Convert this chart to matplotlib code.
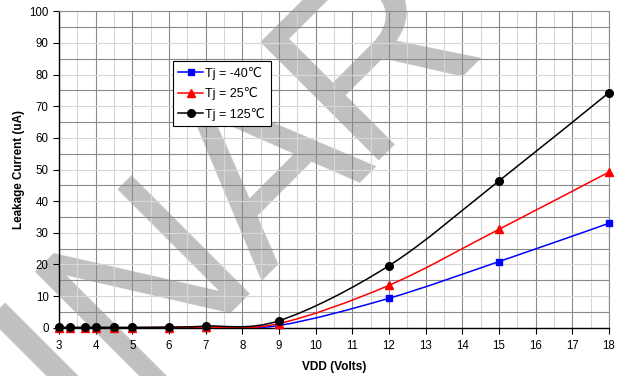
import numpy as np
import matplotlib
matplotlib.use("Agg")
import matplotlib.pyplot as plt
from matplotlib.path import Path
from matplotlib.patches import PathPatch
from matplotlib.lines import Line2D

plt.rcParams['font.family'] = ['Liberation Sans', 'DejaVu Sans']

vdd = [3, 3.3, 3.7, 4, 4.5, 5, 6, 7, 9, 12, 15, 18]
i_m40 = [0, 0, 0, 0, 0, 0, 0, 0.05, 0.7, 9.3, 20.9, 33.0]
i_25 = [0, 0, 0, 0, 0, 0, 0.05, 0.1, 1.3, 13.4, 31.1, 49.2]
i_125 = [0.1, 0.1, 0.1, 0.1, 0.1, 0.1, 0.2, 0.5, 2.2, 19.6, 46.4, 74.3]

series = [
    ("Tj = -40\u2103", i_m40, '#0000ff', 's', 5),
    ("Tj = 25\u2103", i_25, '#ff0000', '^', 5.5),
    ("Tj = 125\u2103", i_125, '#000000', 'o', 5.5),
]

# watermark letters and where each one starts (pixels from top-left)
wm_letters = ["N", "A", "R", "Y"]
wm_pos = [(134, 390), (262, 281), (359, 160), (480, 42)]


def smooth_path(x, y):
    # excel style smoothed line: cubic bezier through every point
    p = np.column_stack([x, y]).astype(float)
    n = len(p)
    verts = [p[0]]
    codes = [Path.MOVETO]
    for i in range(n - 1):
        p_prev = p[i - 1] if i > 0 else p[i]
        p_next2 = p[i + 2] if i + 2 < n else p[i + 1]
        c1 = p[i] + (p[i + 1] - p_prev) / 6
        c2 = p[i + 1] - (p_next2 - p[i]) / 6
        verts += [c1, c2, p[i + 1]]
        codes += [Path.CURVE4] * 3
    return Path(verts, codes)


W, H = 630, 376
fig = plt.figure(figsize=(6.3, 3.76), dpi=100)
ax = fig.add_axes([59 / W, 1 - 327.7 / H, 550 / W, 316.4 / H])
ax.set_facecolor('none')

# watermark behind the grid
wm = dict(fontsize=176, color='#c0c0c0', rotation=45, rotation_mode='anchor',
          va='baseline', zorder=-5, family='Liberation Sans')
for ch, (px, py) in zip(wm_letters, wm_pos):
    fig.text(px / W, 1 - py / H, ch, ha='left', **wm)
fig.text(wm_pos[0][0] / W, 1 - wm_pos[0][1] / H, "PRELIMI", ha='right', **wm)

handles = []
for label, vals, col, mk, ms in series:
    patch = PathPatch(smooth_path(vdd, vals), facecolor='none', edgecolor=col,
                      linewidth=1.1, transform=ax.transData, zorder=3)
    ax.add_patch(patch)
    ax.plot(vdd, vals, linestyle='none', marker=mk, color=col, markersize=ms,
            zorder=4, clip_on=False)
    handles.append(Line2D([], [], color=col, marker=mk, markersize=ms,
                          linewidth=1.1, label=label))

ax.set_xlim(3, 18)
ax.set_ylim(0, 100)
ax.set_xticks(np.arange(3, 19, 1))
ax.set_xticks(np.arange(3.5, 18, 1), minor=True)
ax.set_yticks(np.arange(0, 101, 10))
ax.set_yticks(np.arange(5, 100, 10), minor=True)

ax.set_axisbelow(True)
ax.xaxis.grid(True, which='major', color='#8a8a8a', linewidth=0.8)
ax.xaxis.grid(True, which='minor', color='#d6d6d6', linewidth=0.8)
ax.yaxis.grid(True, which='major', color='#d6d6d6', linewidth=0.8)
ax.yaxis.grid(True, which='minor', color='#8a8a8a', linewidth=0.8)

ax.tick_params(which='major', length=4, width=0.8, labelsize=8.3)
ax.tick_params(axis='x', pad=5)
ax.tick_params(which='minor', length=0)
for s in ['top', 'right']:
    ax.spines[s].set_color('#8a8a8a')
    ax.spines[s].set_linewidth(0.8)
for s in ['left', 'bottom']:
    ax.spines[s].set_linewidth(1.0)

ax.set_xlabel("VDD (Volts)", fontsize=8.6, fontweight='bold', labelpad=6)
ax.set_ylabel("Leakage Current (uA)", fontsize=8.4, fontweight='bold', labelpad=3)

leg = ax.legend(handles=handles, loc='upper left', bbox_to_anchor=(0.207, 0.843),
                borderaxespad=0, fontsize=9, frameon=True, fancybox=False,
                framealpha=1, edgecolor='black', handlelength=2.0,
                handletextpad=0.15, labelspacing=0.6, borderpad=0.45)
leg.get_frame().set_linewidth(0.8)

fig.savefig("out.png", dpi=100)
